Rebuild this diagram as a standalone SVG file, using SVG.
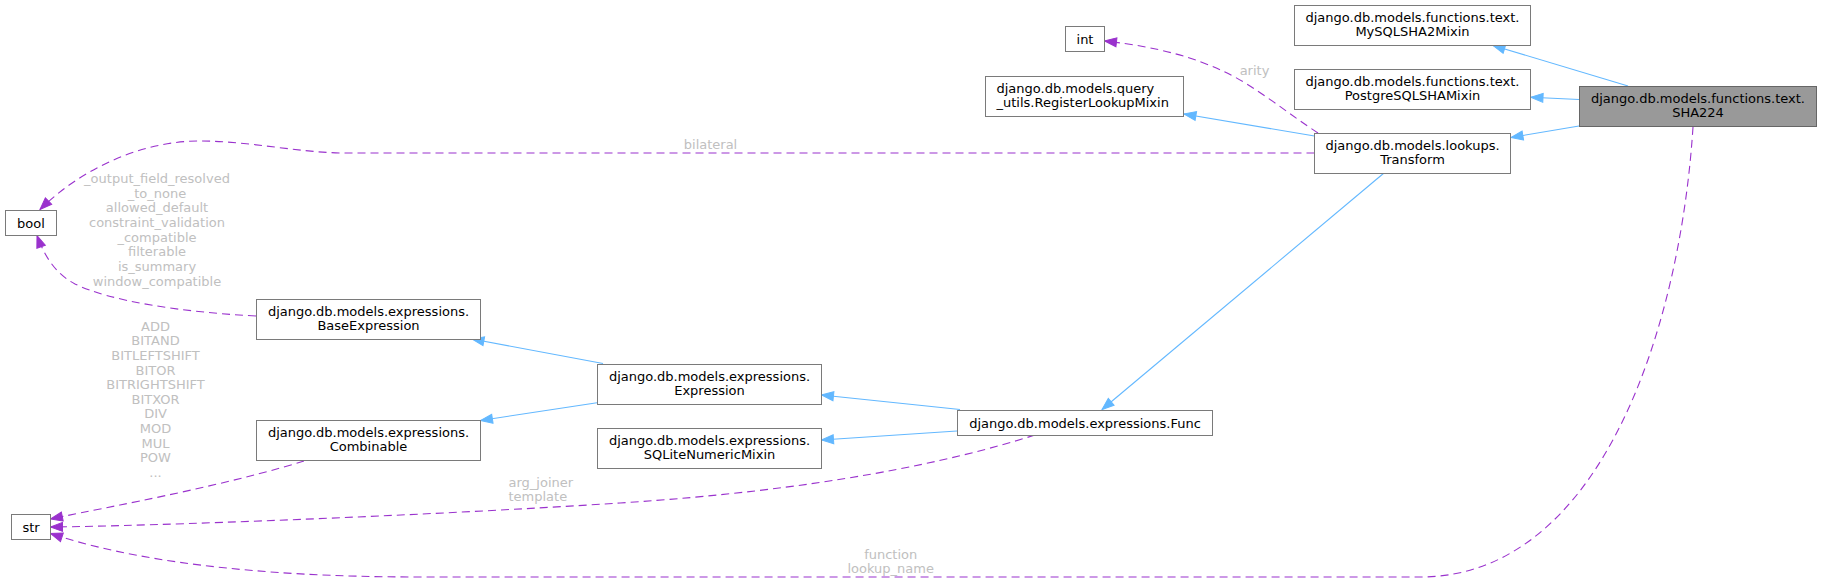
<svg xmlns="http://www.w3.org/2000/svg" width="1821" height="583" viewBox="0 0 1821 583">
<style>
  .node rect { fill: #ffffff; stroke: #7a7a7a; stroke-width: 1; }
  .node text { font-family: "DejaVu Sans", sans-serif; font-size: 13px; fill: #000000; text-anchor: middle; }
  .node text.left { text-anchor: start; }
  .hl rect { fill: #999999; stroke: #666666; }
  .inh { fill: none; stroke: #63b8ff; stroke-width: 1.1; marker-end: url(#ab); }
  .use { fill: none; stroke: #9a32cd; stroke-width: 1.1; stroke-dasharray: 8,5; marker-end: url(#ap); }
  .lbl { font-family: "DejaVu Sans", sans-serif; font-size: 13px; fill: #c0c0c0; text-anchor: middle; }
  .lbl.left { text-anchor: start; }
</style>
<defs>
  <marker id="ab" markerUnits="userSpaceOnUse" markerWidth="14" markerHeight="12" viewBox="0 0 14 12" refX="13" refY="6" orient="auto">
    <path d="M1,1.5 L13,6 L1,10.5 z" fill="#63b8ff" stroke="#63b8ff" stroke-width="1"/>
  </marker>
  <marker id="ap" markerUnits="userSpaceOnUse" markerWidth="14" markerHeight="12" viewBox="0 0 14 12" refX="13" refY="6" orient="auto">
    <path d="M1,1.5 L13,6 L1,10.5 z" fill="#9a32cd" stroke="#9a32cd" stroke-width="1"/>
  </marker>
</defs>
<rect x="0" y="0" width="1821" height="583" fill="#ffffff"/>

<g id="edges">
  <!-- inheritance (blue) -->
  <path class="inh" d="M1628,86 L1493,45.5"/>
  <path class="inh" d="M1579,99.5 L1531,97.3"/>
  <path class="inh" d="M1579,126 L1511,137.5"/>
  <path class="inh" d="M1314.5,136 L1184,114"/>
  <path class="inh" d="M1384,173 L1102,409.5"/>
  <path class="inh" d="M960,409.5 L821.5,395"/>
  <path class="inh" d="M957,431 L821.5,440"/>
  <path class="inh" d="M603,363.5 L472,339"/>
  <path class="inh" d="M597,402.7 L480.5,420.5"/>
  <!-- usage (purple dashed) -->
  <path class="use" d="M1318,133 C1290,115 1255,86 1225,72 C1195,58 1160,47 1104.5,41"/>
  <path class="use" d="M1314.5,153 L345,153 C300,153 250,141 200,141 C140,141 80,170 40,209.5"/>
  <path class="use" d="M256,316 C180,312 110,301 75,284 C60,276 47,263 37,235.5"/>
  <path class="use" d="M304,461 C250,478 170,495 120,505 C90,511 70,515 50.5,519"/>
  <path class="use" d="M1035,435 C950,462 820,490 620,503 C420,516 150,526 50.5,527"/>
  <path class="use" d="M1693,127 C1680,330 1600,577 1420,577 L420,577 C250,577 130,560 50.5,533.5"/>
  <!-- edge labels -->
  <text class="lbl" x="1254.5" y="75">arity</text>
  <text class="lbl" x="710.5" y="149">bilateral</text>
  <text class="lbl" x="157" y="182.8">_output_field_resolved</text>
  <text class="lbl" x="157" y="197.5">_to_none</text>
  <text class="lbl" x="157" y="212.1">allowed_default</text>
  <text class="lbl" x="157" y="226.8">constraint_validation</text>
  <text class="lbl" x="157" y="241.5">_compatible</text>
  <text class="lbl" x="157" y="256.1">filterable</text>
  <text class="lbl" x="157" y="270.8">is_summary</text>
  <text class="lbl" x="157" y="285.5">window_compatible</text>
  <text class="lbl" x="155.5" y="330.8">ADD</text>
  <text class="lbl" x="155.5" y="345.4">BITAND</text>
  <text class="lbl" x="155.5" y="360">BITLEFTSHIFT</text>
  <text class="lbl" x="155.5" y="374.6">BITOR</text>
  <text class="lbl" x="155.5" y="389.2">BITRIGHTSHIFT</text>
  <text class="lbl" x="155.5" y="403.8">BITXOR</text>
  <text class="lbl" x="155.5" y="418.4">DIV</text>
  <text class="lbl" x="155.5" y="433">MOD</text>
  <text class="lbl" x="155.5" y="447.6">MUL</text>
  <text class="lbl" x="155.5" y="462.2">POW</text>
  <text class="lbl" x="155.5" y="476.8">...</text>
  <text class="lbl left" x="508.5" y="486.8">arg_joiner</text>
  <text class="lbl left" x="508.5" y="501.3">template</text>
  <text class="lbl" x="890.7" y="558.5">function</text>
  <text class="lbl" x="890.7" y="572.8">lookup_name</text>
</g>

<g id="node-sha224" class="node hl">
  <rect x="1579.5" y="86.5" width="237" height="40"/>
  <text x="1698" y="102.5">django.db.models.functions.text.</text>
  <text x="1698" y="117">SHA224</text>
</g>
<g id="node-mysqlsha2mixin" class="node">
  <rect x="1294.5" y="5.5" width="236" height="40"/>
  <text x="1412.5" y="21.5">django.db.models.functions.text.</text>
  <text x="1412.5" y="36">MySQLSHA2Mixin</text>
</g>
<g id="node-postgresqlshamixin" class="node">
  <rect x="1294.5" y="69.5" width="236" height="40"/>
  <text x="1412.5" y="85.5">django.db.models.functions.text.</text>
  <text x="1412.5" y="100">PostgreSQLSHAMixin</text>
</g>
<g id="node-transform" class="node">
  <rect x="1314.5" y="133.5" width="196" height="40"/>
  <text x="1412.5" y="149.5">django.db.models.lookups.</text>
  <text x="1412.5" y="164">Transform</text>
</g>
<g id="node-int" class="node">
  <rect x="1065.5" y="26.5" width="39" height="25"/>
  <text x="1085" y="43.5">int</text>
</g>
<g id="node-registerlookupmixin" class="node">
  <rect x="985.5" y="76.5" width="198" height="40"/>
  <text class="left" x="996.5" y="92.5">django.db.models.query</text>
  <text class="left" x="996.5" y="107">_utils.RegisterLookupMixin</text>
</g>
<g id="node-bool" class="node">
  <rect x="5.5" y="210.5" width="51" height="25"/>
  <text x="31" y="227.5">bool</text>
</g>
<g id="node-baseexpression" class="node">
  <rect x="256.5" y="299.5" width="224" height="40"/>
  <text x="368.5" y="315.5">django.db.models.expressions.</text>
  <text x="368.5" y="330">BaseExpression</text>
</g>
<g id="node-combinable" class="node">
  <rect x="256.5" y="420.5" width="224" height="40"/>
  <text x="368.5" y="436.5">django.db.models.expressions.</text>
  <text x="368.5" y="451">Combinable</text>
</g>
<g id="node-expression" class="node">
  <rect x="597.5" y="364.5" width="224" height="40"/>
  <text x="709.5" y="380.5">django.db.models.expressions.</text>
  <text x="709.5" y="395">Expression</text>
</g>
<g id="node-sqlitenumericmixin" class="node">
  <rect x="597.5" y="428.5" width="224" height="40"/>
  <text x="709.5" y="444.5">django.db.models.expressions.</text>
  <text x="709.5" y="459">SQLiteNumericMixin</text>
</g>
<g id="node-func" class="node">
  <rect x="957.5" y="410.5" width="255" height="25"/>
  <text x="1085" y="427.5">django.db.models.expressions.Func</text>
</g>
<g id="node-str" class="node">
  <rect x="11.5" y="514.5" width="39" height="25"/>
  <text x="31" y="531.5">str</text>
</g>
</svg>
